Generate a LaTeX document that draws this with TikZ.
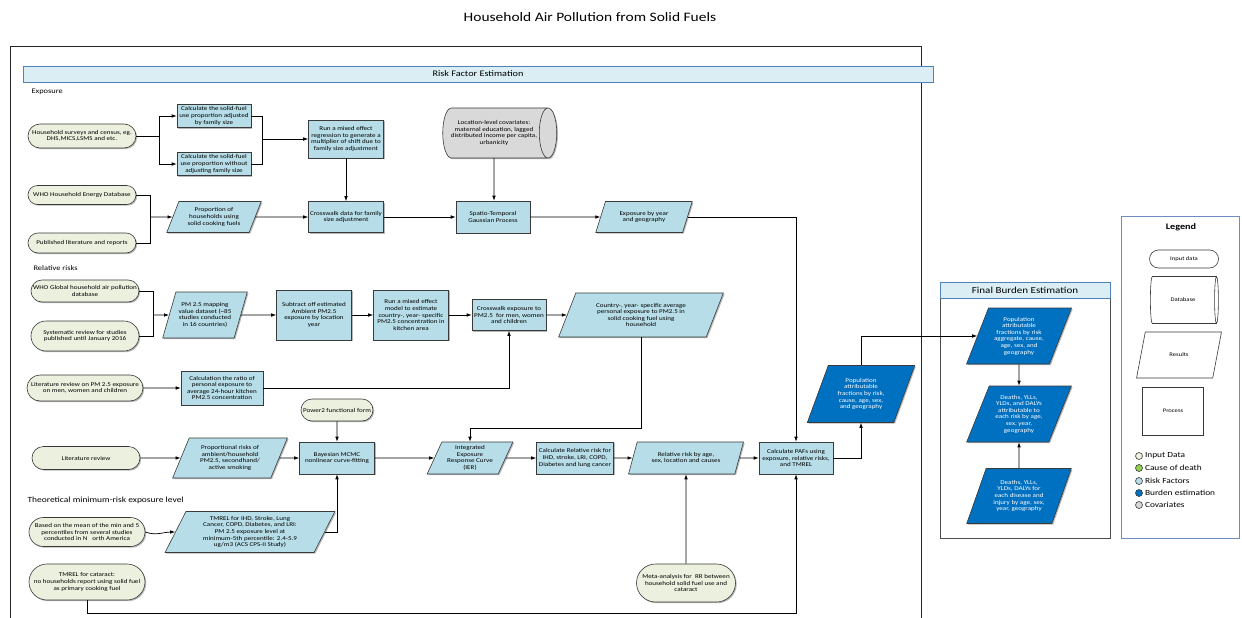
\documentclass[tikz,border=0pt]{standalone}
\usepackage{fontspec}
\setmainfont{Carlito}[FakeStretch=1.2]
\usepackage{tikz}
\usetikzlibrary{arrows.meta,positioning,shapes.geometric,shapes.misc,shadows,calc}
\definecolor{inputfill}{HTML}{EBF1DE}
\definecolor{riskfill}{HTML}{B7DEE8}
\definecolor{burdenfill}{HTML}{0070C0}
\definecolor{covfill}{HTML}{D9D9D9}
\definecolor{causefill}{HTML}{92D050}
\definecolor{headfill}{HTML}{DAEEF3}
\definecolor{headborder}{HTML}{4F81BD}
\definecolor{legendborder}{HTML}{6C8EBF}
\definecolor{boxborder}{HTML}{3A3A3A}
\newcommand{\boxsize}{\fontsize{5.9}{6.6}\selectfont}

\begin{document}
\begin{tikzpicture}[x=1pt,y=-1pt,>={Latex[length=5pt,width=3.6pt]},font=\boxsize]
\tikzstyle{softshadow}=[drop shadow={shadow xshift=1.2pt,shadow yshift=-1.2pt,opacity=0.4,fill=black!70}]
\tikzstyle{input}=[draw=boxborder,line width=0.6pt,rounded rectangle,fill=inputfill,align=center,inner sep=1pt,minimum width=110pt,softshadow]
\tikzstyle{process}=[draw=boxborder,line width=0.6pt,rectangle,fill=riskfill,align=center,inner sep=1pt,softshadow]
\tikzstyle{result}=[draw=boxborder,line width=0.6pt,trapezium,trapezium left angle=65,trapezium right angle=115,trapezium stretches=true,fill=riskfill,align=center,inner sep=1pt,softshadow]
\tikzstyle{burden}=[result,fill=burdenfill,text=white]
\tikzstyle{database}=[draw=boxborder,line width=0.6pt,cylinder,aspect=0.65,fill=covfill,align=center,inner sep=1pt,softshadow]
\tikzstyle{header}=[draw=headborder,line width=0.6pt,fill=headfill,inner sep=0pt]
\tikzstyle{legdot}=[circle,draw=boxborder,line width=0.6pt,minimum size=7pt,inner sep=0pt]
\tikzstyle{link}=[->,line width=0.7pt]
\tikzstyle{wire}=[line width=0.7pt]
\path[use as bounding box,fill=white] (0,0) rectangle (1242,618);

% title and frames
\node[font=\fontsize{12.9}{15}\selectfont] (title) at (590,17) {Household Air Pollution from Solid Fuels};
\draw[black!85,line width=0.8pt] (10,618) -- (10,46) -- (921,46) -- (921,618);
\node[header,minimum width=910pt,minimum height=16pt,font=\fontsize{8.5}{10}\selectfont] (rfe) at (478,74) {Risk Factor Estimation};
\draw[black!70,line width=0.8pt] (940,282) rectangle (1110,538);
\node[header,minimum width=170pt,minimum height=16pt,font=\fontsize{9.2}{11}\selectfont] (fbe) at (1025,290) {Final Burden Estimation};
\draw[legendborder,line width=0.8pt] (1121,216) rectangle (1239,538);

% exposure
\node[anchor=west,font=\fontsize{7}{8}\selectfont] (lab_exp) at (28,92) {Exposure};
\node[input,minimum height=24pt] (in_survey) at (82,136) {Household surveys and census, eg.\\DHS,MICS,LSMS and etc.};
\node[process,minimum width=74pt,minimum height=23pt] (calc_adj) at (214,116) {Calculate the solid-fuel\\use proportion adjusted\\by family size};
\node[process,minimum width=74pt,minimum height=23pt] (calc_noadj) at (214,164) {Calculate the solid-fuel\\use proportion without\\adjusting family size};
\node[process,minimum width=75pt,minimum height=38pt] (mixed1) at (346,139) {Run a mixed effect\\regression to generate a\\multiplier of shift due to\\family size adjustment};
\node[input,minimum height=19pt] (in_who_energy) at (82,195) {WHO Household Energy Database};
\node[input,minimum height=20pt] (in_published) at (82,243) {Published literature and reports};
\node[result,minimum width=95pt,minimum height=31pt] (prop_households) at (214,217) {Proportion of\\households using\\solid cooking fuels};
\node[process,minimum width=75pt,minimum height=31pt] (crosswalk1) at (346,217) {Crosswalk data for family\\size adjustment};
\node[database,minimum width=50pt,minimum height=114pt] (covariates) at (494,133) {Location-level covariates:\\maternal education, lagged\\distributed income per capita,\\urbanicity};
\node[process,minimum width=74pt,minimum height=32pt] (spatio) at (493,217) {Spatio-Temporal\\Gaussian Process};
\node[result,minimum width=97pt,minimum height=31pt] (exposure_res) at (644,217) {Exposure by year\\and geography};

% relative risks
\node[anchor=west,font=\fontsize{7}{8}\selectfont] (lab_rr) at (30,268) {Relative risks};
\node[input,minimum height=22pt] (in_who_global) at (85,291) {WHO Global household air pollution\\database};
\node[input,minimum height=30pt] (in_systematic) at (85,336) {Systematic review for studies\\published until January 2016};
\node[result,minimum width=85pt,minimum height=46pt] (pm_map) at (205,315) {PM 2.5 mapping\\value dataset (\textasciitilde 85\\studies conducted\\in 16 countries)};
\node[process,minimum width=75pt,minimum height=50pt] (subtract) at (314,315) {Subtract off estimated\\Ambient PM2.5\\exposure by location\\year};
\node[process,minimum width=75pt,minimum height=50pt] (mixed2) at (411,315) {Run a mixed effect\\model to estimate\\country-, year- specific\\PM2.5 concentration in\\kitchen area};
\node[process,minimum width=74pt,minimum height=31pt] (crosswalk2) at (509,315) {Crosswalk exposure to\\PM2.5\ \ for men, women\\and children};
\node[result,minimum width=165pt,minimum height=44pt] (country_res) at (641,315) {Country-, year- specific average\\personal exposure to PM2.5 in\\solid cooking fuel using\\household};
\node[input,minimum height=26pt,inner xsep=-3pt] (in_lit_pm) at (85,388) {Literature review on PM 2.5 exposure\\on men, women and children};
\node[process,minimum width=82pt,minimum height=34pt] (ratio) at (222,388) {Calculation the ratio of\\personal exposure to\\average 24-hour kitchen\\PM2.5 concentration};
\node[input,minimum width=74pt,minimum height=22pt] (power2) at (337,410) {Power2 functional form};
\node[input,minimum height=23pt] (in_lit) at (86,458) {Literature review};
\node[result,minimum width=115pt,minimum height=40pt] (prop_risks) at (230,458) {Proportional risks of\\ambient/household\\PM2.5, secondhand/\\active smoking};
\node[process,minimum width=75pt,minimum height=32pt] (bayes) at (337,458) {Bayesian MCMC\\nonlinear curve-fitting};
\node[result,minimum width=86pt,minimum height=32pt] (ier) at (470,458) {Integrated\\Exposure\\Response Curve\\(IER)};
\node[process,minimum width=77pt,minimum height=32pt] (calc_rr) at (575,458) {Calculate Relative risk for\\IHD, stroke, LRI, COPD,\\Diabetes and lung cancer};
\node[result,minimum width=115pt,minimum height=32pt] (rr_res) at (686,458) {Relative risk by age,\\sex, location and causes};
\node[process,minimum width=74pt,minimum height=32pt] (paf) at (796,458) {Calculate PAFs using\\exposure, relative risks,\\and TMREL};
\node[burden,minimum width=108pt,minimum height=57pt] (paf_res) at (861,394) {Population\\attributable\\fractions by risk,\\cause, age, sex,\\and geography};

% TMREL
\node[anchor=west,font=\fontsize{7.9}{9.5}\selectfont] (lab_tmrel) at (24,500) {Theoretical minimum-risk exposure level};
\node[input,minimum height=29pt,inner xsep=-3pt] (in_mean) at (87,532) {Based on the mean of the min and 5\\percentiles from several studies\\conducted in N\ \ \ orth America};
\node[result,minimum width=170pt,minimum height=41pt] (tmrel) at (250,532) {TMREL for IHD, Stroke, Lung\\Cancer, COPD, Diabetes, and LRI:\\PM 2.5 exposure level at\\minimum-5th percentile: 2.4-5.9\\ug/m3 (ACS CPS-II Study)};
\node[input,minimum height=36pt,inner xsep=-3pt] (in_cataract) at (87,582) {TMREL for cataract:\\no households report using solid fuel\\as primary cooking fuel};
\node[input,minimum width=101pt,minimum height=38pt] (meta) at (686,583) {Meta-analysis for\ \ RR between\\household solid fuel use and\\cataract};

% final burden
\node[burden,minimum width=105pt,minimum height=56pt] (fb_paf) at (1019,336) {Population\\attributable\\fractions by risk\\aggregate, cause,\\age, sex, and\\geography};
\node[burden,minimum width=105pt,minimum height=56pt] (fb_deaths) at (1019,414) {Deaths, YLLs,\\YLDs, and DALYs\\attributable to\\each risk by age,\\sex, year,\\geography};
\node[burden,minimum width=105pt,minimum height=55pt] (fb_burden) at (1019,496) {Deaths, YLLs,\\YLDs, DALYs for\\each disease and\\injury by age, sex,\\year, geography};

% legend
\node[font=\bfseries\fontsize{8.5}{10}\selectfont] (leg_title) at (1181,227) {Legend};
\tikzstyle{legshape}=[draw=boxborder,line width=0.6pt,fill=white,font=\fontsize{5.5}{6}\selectfont,inner sep=1pt]
\node[legshape,rounded rectangle,minimum width=71pt,minimum height=18pt] (leg_input) at (1184,259) {Input data};
\node[legshape,cylinder,aspect=0.65,minimum width=47pt,minimum height=68pt] (leg_db) at (1183,300) {Database};
\node[legshape,trapezium,trapezium left angle=65,trapezium right angle=115,trapezium stretches=true,minimum width=85pt,minimum height=46pt] (leg_res) at (1179,355) {Results};
\node[legshape,rectangle,minimum width=61pt,minimum height=48pt] (leg_proc) at (1173,411) {Process};
\foreach \yy/\col/\lab [count=\i] in {456/inputfill/Input Data,468/causefill/Cause of death,481/riskfill/Risk Factors,493/burdenfill/Burden estimation,505/covfill/Covariates}{
  \node[legdot,fill=\col] (dot\i) at (1139,\yy) {};
  \node[right=2pt of dot\i,inner sep=0pt,font=\fontsize{7.8}{9}\selectfont] (lab\i) {\lab};
}

% connectors: exposure
\coordinate (j1) at (262,139);
\coordinate (j2) at (150,217);
\draw[link] (in_survey.east) -- ++(23,0) |- (calc_adj.west);
\draw[link] (in_survey.east) -- ++(23,0) |- (calc_noadj.west);
\draw[wire] (calc_adj.east) -| (j1);
\draw[wire] (calc_noadj.east) -| (j1);
\draw[link] (j1) -- (mixed1.west);
\draw[link] (mixed1) -- (crosswalk1);
\draw[wire] (in_who_energy.east) -| (j2);
\draw[wire] (in_published.east) -| (j2);
\draw[link] (j2) -- (prop_households.west);
\draw[link] (prop_households) -- (crosswalk1);
\draw[link] (crosswalk1) -- (spatio);
\draw[link] (covariates) -- (covariates |- spatio.north);
\draw[link] (spatio) -- (exposure_res);
\draw[link] (exposure_res.east) -| (paf.north);

% connectors: relative risks
\coordinate (j3) at (153,315);
\draw[wire] (in_who_global.east) -| (j3);
\draw[wire] (in_systematic.east) -| (j3);
\draw[link] (j3) -- (pm_map.west);
\draw[link] (pm_map) -- (subtract);
\draw[link] (subtract) -- (mixed2);
\draw[link] (mixed2) -- (crosswalk2);
\draw[link] (crosswalk2) -- (country_res);
\draw[link] (in_lit_pm) -- (ratio);
\draw[link] (ratio.east) -| (crosswalk2.south);
\draw[link] (country_res.south) -- ++(0,91) -| (ier.north);
\draw[link] (power2) -- (bayes);
\draw[link] (in_lit) -- (prop_risks);
\draw[link] (prop_risks) -- (bayes);
\draw[link] (bayes) -- (ier);
\draw[link] (ier) -- (calc_rr);
\draw[link] (calc_rr) -- (rr_res);
\draw[link] (rr_res) -- (paf);
\draw[link] (paf.east) -| (paf_res.south);
\draw[link] (paf_res.north) |- (fb_paf.west);

% connectors: tmrel and final
\draw[link] (in_mean.east) to[out=-20,in=180] (tmrel.west);
\draw[link] (tmrel.east) -| (bayes.south);
\draw[link] (in_cataract.south) -- ++(0,13) -| (paf.south);
\draw[link] (meta) -- (rr_res);
\draw[link] (fb_paf) -- (fb_deaths);
\draw[link] (fb_burden) -- (fb_deaths);
\end{tikzpicture}
\end{document}
